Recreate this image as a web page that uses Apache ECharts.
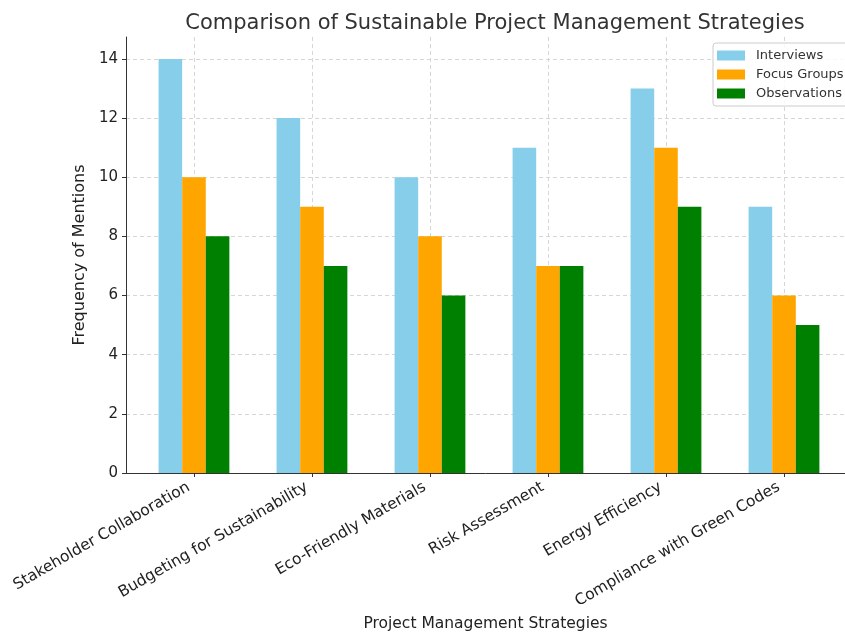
<!DOCTYPE html>
<html>
<head>
<meta charset="utf-8">
<script src="https://cdn.jsdelivr.net/npm/echarts@6/dist/echarts.min.js"></script>
<style>
  html, body { margin: 0; padding: 0; background: #fff; }
  #chart { width: 845px; height: 633px; }
</style>
</head>
<body>
<div id="chart"></div>
<script>
var categories = ['Stakeholder Collaboration', 'Budgeting for Sustainability', 'Eco-Friendly Materials',
  'Risk Assessment', 'Energy Efficiency', 'Compliance with Green Codes'];
var interviews = [14, 12, 10, 11, 13, 9];
var focusGroups = [10, 9, 8, 7, 11, 6];
var observations = [8, 7, 6, 7, 9, 5];
var yTicks = [0, 2, 4, 6, 8, 10, 12, 14];

var positions = categories.map(function(c, i) { return i; });
function pairs(vals) {
  return vals.map(function(v, i) { return [i, v]; });
}

var font = 'DejaVu Sans';
var myChart = echarts.init(document.getElementById('chart'));
var option = {
  backgroundColor: '#fff',
  animation: false,
  color: ['#87ceeb', '#ffa500', '#008000'],
  title: {
    text: 'Comparison of Sustainable Project Management Strategies',
    left: 490, top: 8, textAlign: 'center',
    textStyle: { fontFamily: font, fontSize: 21, fontWeight: 'normal', color: '#333' }
  },
  legend: {
    orient: 'vertical',
    left: 713, top: 43,
    padding: [6, 8, 6, 4],
    itemWidth: 28, itemHeight: 10, itemGap: 6,
    backgroundColor: 'rgba(255,255,255,0.85)',
    borderColor: '#ccc', borderWidth: 1, borderRadius: 3,
    icon: 'rect',
    textStyle: { fontFamily: font, fontSize: 13, color: '#333', padding: [0, 0, 0, 6] },
    data: ['Interviews', 'Focus Groups', 'Observations']
  },
  grid: { left: 126, right: 0, top: 37, bottom: 160, containLabel: false, outerBoundsMode: 'none' },
  xAxis: {
    type: 'value',
    min: -0.576, max: 5.517,
    name: 'Project Management Strategies',
    nameLocation: 'middle', nameGap: 143, nameMoveOverlap: false,
    nameTextStyle: { fontFamily: font, fontSize: 15.5, color: '#222' },
    axisLine: { show: true, onZero: false, lineStyle: { color: '#333', width: 1 } },
    axisTick: { show: true, length: 4, customValues: positions, lineStyle: { color: '#333' } },
    axisLabel: {
      customValues: positions,
      rotate: 30, margin: 10, padding: [0, 6, 0, 0],
      fontFamily: font, fontSize: 15.5, color: '#222',
      formatter: function(v) { return categories[Math.round(v)]; }
    },
    splitLine: { show: true, lineStyle: { color: '#d6d6d6', type: [4, 3], width: 1 } }
  },
  yAxis: {
    type: 'value',
    min: 0, max: 14.74,
    name: 'Frequency of Mentions',
    nameLocation: 'middle', nameGap: 27,
    nameTextStyle: { fontFamily: font, fontSize: 16, color: '#222' },
    axisLine: { show: true, onZero: false, lineStyle: { color: '#333', width: 1 } },
    axisTick: { show: true, length: 4, customValues: yTicks, lineStyle: { color: '#333' } },
    axisLabel: { customValues: yTicks, margin: 8, fontFamily: font, fontSize: 15, color: '#222' },
    splitLine: { show: true, lineStyle: { color: '#d6d6d6', type: [4, 3], width: 1 } }
  },
  series: [
    { name: 'Interviews', type: 'bar', barWidth: 23.6, barGap: '0%', data: pairs(interviews) },
    { name: 'Focus Groups', type: 'bar', barWidth: 23.6, barGap: '0%', data: pairs(focusGroups) },
    { name: 'Observations', type: 'bar', barWidth: 23.6, barGap: '0%', data: pairs(observations) }
  ]
};
myChart.setOption(option);
</script>
</body>
</html>
